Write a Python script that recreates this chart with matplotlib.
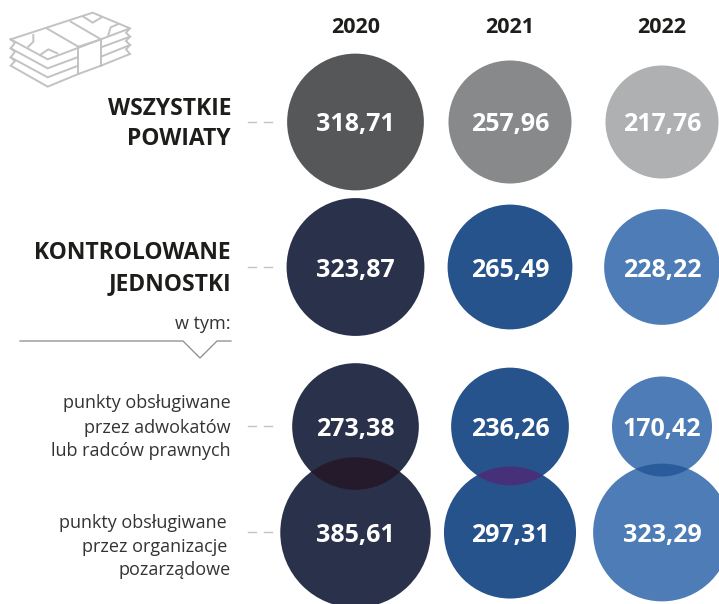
import numpy as np
import matplotlib
matplotlib.use("Agg")
import matplotlib.pyplot as plt
from matplotlib.patches import Circle

plt.rcParams['font.family'] = ['Open Sans', 'Noto Sans', 'DejaVu Sans']

years = ["2020", "2021", "2022"]
all_counties = [318.71, 257.96, 217.76]
audited_units = [323.87, 265.49, 228.22]
lawyer_points = [273.38, 236.26, 170.42]
ngo_points = [385.61, 297.31, 323.29]

row_labels_bold = [["WSZYSTKIE", "POWIATY"], ["KONTROLOWANE", "JEDNOSTKI"]]
row_labels_light = [["punkty obsługiwane", "przez adwokatów", "lub radców prawnych"],
                    ["punkty obsługiwane ", "przez organizacje ", "pozarządowe"]]

col_x = [355.5, 510, 662]
row_y = [122, 267, 426.5, 532.5]
scale = 3.83
grey_cols = ["#555759", "#87898b", "#aeb0b2"]
blue_cols = ["#2a314b", "#27538c", "#4d7cb6"]
overlap_cols = ["#241a2c", "#47307a", "#2a5b9b"]

fig = plt.figure(figsize=(7.19, 6.04), dpi=100)
ax = fig.add_axes([0, 0, 1, 1])
ax.set_xlim(0, 719)
ax.set_ylim(604, 0)
ax.axis("off")


def bubble(x, y, v, c, z=2):
    p = Circle((x, y), scale * np.sqrt(v), fc=c, ec="none", zorder=z)
    ax.add_patch(p)
    return p


def val_label(x, y, v):
    ax.text(x, y, f"{v:.2f}".replace(".", ","), color="white", fontsize=18,
            fontweight="bold", ha="center", va="center_baseline", zorder=5)


for i, x in enumerate(col_x):
    ax.text(x, 33, years[i], fontsize=15.5, fontweight="bold", color="#1d1d1b",
            ha="center", va="baseline")
    bubble(x, row_y[0], all_counties[i], grey_cols[i])
    bubble(x, row_y[1], audited_units[i], blue_cols[i])
    bubble(x, row_y[2], lawyer_points[i], blue_cols[i])
    low = bubble(x, row_y[3], ngo_points[i], blue_cols[i])
    ov = bubble(x, row_y[2], lawyer_points[i], overlap_cols[i], z=3)
    ov.set_clip_path(low)
    val_label(x, row_y[0], all_counties[i])
    val_label(x, row_y[1], audited_units[i])
    val_label(x, row_y[2], lawyer_points[i])
    val_label(x, row_y[3], ngo_points[i])

for lines, bases in zip(row_labels_bold, [[115, 145], [259, 290]]):
    for s, b in zip(lines, bases):
        ax.text(231, b, s, fontsize=16.5, fontweight="bold", color="#1d1d1b",
                ha="right", va="baseline")

for lines, bases in zip(row_labels_light, [[408, 433, 456], [528, 552, 575]]):
    for s, b in zip(lines, bases):
        ax.text(231 - (4 if s.endswith(" ") else 0), b, s.strip(), fontsize=13,
                color="#333333", ha="right", va="baseline")

ax.text(231, 329, "w tym:", fontsize=13, color="#333333", ha="right", va="baseline")
ax.plot([20, 183, 200, 217, 231], [341, 341, 358, 341, 341], color="#8a8a8a", lw=0.9)

for y in [122, 267, 426, 532]:
    ax.plot([248, 256], [y, y], color="#c4c4c4", lw=1)
    ax.plot([264, 272], [y, y], color="#c4c4c4", lw=1)

# banknote icon (zoomed-crop coordinates / 3)
icon_lines = [
    [(32, 118), (278, 38), (390, 85), (143, 178), (32, 118)],
    [(140, 85), (235, 140)], [(212, 65), (303, 118)],
    [(235, 140), (303, 118)], [(235, 140), (235, 222)], [(303, 118), (303, 197)],
    [(32, 118), (45, 128), (32, 145), (143, 205), (232, 172)],
    [(32, 145), (45, 155), (32, 172), (143, 232), (232, 198)],
    [(32, 172), (45, 183), (32, 197), (143, 260), (235, 222)],
    [(235, 222), (303, 197)],
    [(303, 142), (390, 110), (378, 98), (390, 85)],
    [(303, 170), (390, 135), (378, 123), (390, 110)],
    [(303, 197), (390, 162), (378, 148), (390, 135)],
    [(100, 105), (100, 125), (85, 140)],
    [(120, 165), (145, 148), (172, 160)],
    [(250, 50), (278, 68), (305, 52)],
    [(325, 105), (332, 82), (355, 72)],
]
for seg in icon_lines:
    a = np.array(seg, dtype=float) / 3
    ax.plot(a[:, 0], a[:, 1], color="#c2c2c2", lw=1.4, solid_joinstyle="miter")

fig.savefig("out.png", dpi=100, facecolor="white")
